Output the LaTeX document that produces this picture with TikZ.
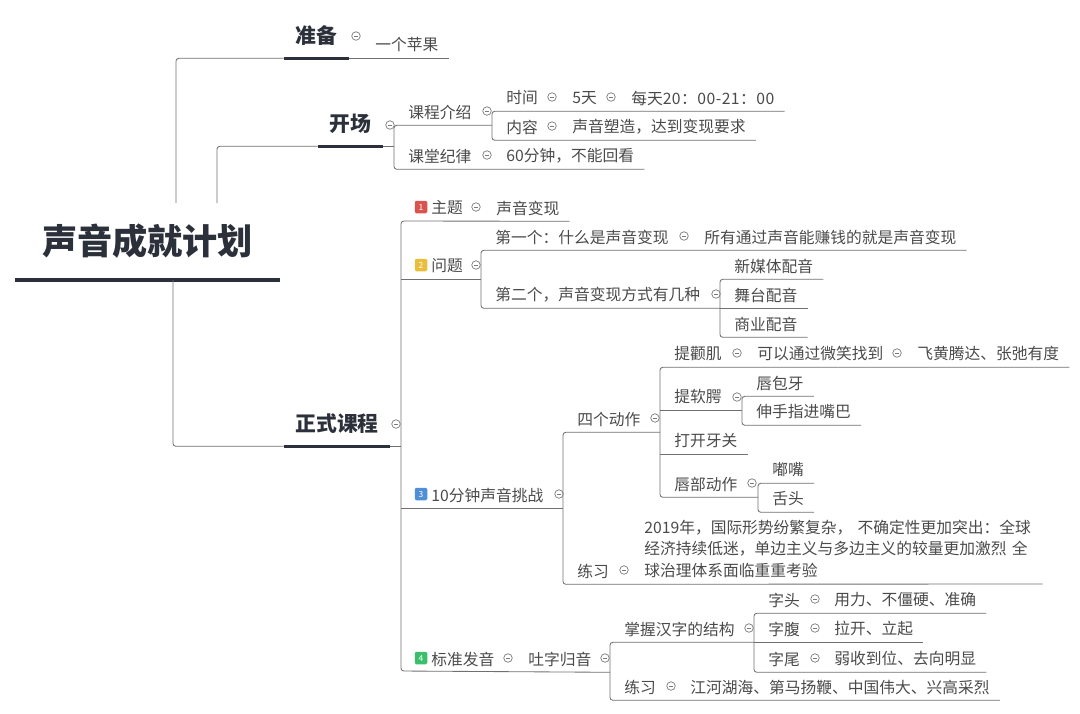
\documentclass[tikz,border=0pt]{standalone}
\usepackage{fontspec}
\setmainfont{Noto Sans CJK SC}
\definecolor{inkdark}{HTML}{2B303B}
\definecolor{inkleaf}{HTML}{4A4A4A}
\definecolor{linegray}{HTML}{707070}
\definecolor{foldgray}{HTML}{7A7A7A}
\definecolor{tagred}{HTML}{D9534F}
\definecolor{tagyellow}{HTML}{E8BE3C}
\definecolor{tagblue}{HTML}{4F8FD6}
\definecolor{taggreen}{HTML}{3CBF6A}
\def\px{0.025cm}
\tikzset{
    leaf/.style={anchor=west, inner sep=0pt, minimum height=26*\px, yshift=-1*\px, text=inkleaf,
        font=\fontsize{11.2}{13}\selectfont,
        execute at begin node={\kern14\dimexpr\px\relax},
        execute at end node={\kern10\dimexpr\px\relax}},
    para/.style={anchor=south west, inner sep=0pt, inner ysep=6*\px, text width=398*\px, align=left,
        text=inkleaf, font=\fontsize{11.2}{15.3}\selectfont},
    major/.style={inner sep=0pt, minimum height=44*\px, text=inkdark,
        font=\fontsize{14.8}{17}\selectfont\bfseries},
    title/.style={inner sep=0pt, minimum height=78*\px, minimum width=265*\px, text=inkdark,
        font=\fontsize{25}{28}\selectfont\bfseries},
    branch/.style={draw=linegray, line width=0.6pt, rounded corners=2pt},
    bar/.style={draw=inkdark, line width=2.2pt},
    fold/.style={circle, draw=foldgray, line width=0.5pt, minimum size=8.5*\px, inner sep=0pt,
        path picture={\draw[foldgray, line width=0.4pt] ([xshift=-1.8*\px]path picture bounding box.center) -- ([xshift=1.8*\px]path picture bounding box.center);}},
    tag/.style={rounded corners=1pt, minimum size=12.5*\px, inner sep=0pt, text=white,
        font=\fontsize{6}{6}\selectfont}
}

\begin{document}
\begin{tikzpicture}[x=\px, y=-\px]
    \useasboundingbox (0,0) rectangle (1080,713);

    % Title and the three main parts
    \node[title] (root) at (147.5,241) {声音成就计划};
    \node[major, minimum width=65*\px] (prep) at (316.5,36) {准备};
    \node[major, minimum width=65*\px] (open) at (350.5,124) {开场};
    \node[major, minimum width=106*\px] (main) at (337,424) {正式课程};
    \coordinate (stubA) at (176,203);
    \coordinate (stubB) at (217,203);
    \coordinate (stubC) at (173,280);
    \coordinate (trunkTop) at (401,221);
    \coordinate (trunkBot) at (401,671);

    % First part
    \node[leaf] (apple) at (361,44) {一个苹果};

    % Second part
    \node[leaf] (intro) at (394,111) {课程介绍};
    \node[leaf] (span) at (492,97) {时间};
    \node[leaf] (days) at (558,97) {5天};
    \node[leaf, execute at end node={}] (hours) at (617,97) {每天\addfontfeature{LetterSpace=3}20：00-21：00};
    \node[leaf] (content) at (492,126) {内容};
    \node[leaf] (shaping) at (558,126) {声音塑造，达到变现要求};
    \node[leaf] (rules) at (394,155) {课堂纪律};
    \node[leaf] (minutes) at (492,155) {60分钟，不能回看};

    % Topic and question
    \node[tag, fill=tagred] (tagA) at (421,207) {1};
    \node[leaf] (topic) at (417,207) {主题};
    \node[leaf] (topicVal) at (482,207) {声音变现};
    \node[tag, fill=tagyellow] (tagB) at (421,265) {2};
    \node[leaf] (ask) at (417,265) {问题};
    \node[leaf] (askOne) at (481,236) {第一个：什么是声音变现};
    \node[leaf] (askOneVal) at (690,236) {所有通过声音能赚钱的就是声音变现};
    \node[leaf] (askTwo) at (481,294) {第二个，声音变现方式有几种};
    \node[leaf] (mediaDub) at (720,265) {新媒体配音};
    \node[leaf] (stageDub) at (720,294) {舞台配音};
    \node[leaf] (bizDub) at (720,323) {商业配音};

    % Ten minute challenge
    \node[tag, fill=tagblue] (tagC) at (421,494) {3};
    \node[leaf] (challenge) at (417,494) {10分钟声音挑战};
    \node[leaf] (moves) at (563,418) {四个动作};
    \node[leaf] (cheek) at (660,353) {提颧肌};
    \node[leaf] (cheekVal) at (743,353) {可以通过微笑找到};
    \node[leaf] (cheekEnd) at (903,353) {飞黄腾达、张弛有度};
    \node[leaf] (palate) at (660,396) {提软腭};
    \node[leaf] (lipTeeth) at (742,382) {唇包牙};
    \node[leaf] (handIn) at (742,411) {伸手指进嘴巴};
    \node[leaf] (jaw) at (660,440) {打开牙关};
    \node[leaf] (lips) at (660,483) {唇部动作};
    \node[leaf] (pout) at (758,469) {嘟嘴};
    \node[leaf] (tongue) at (758,498) {舌头};
    \node[leaf] (drill) at (563,570) {练习};
    \node[para] (drillText) at (644,584) {2019年，国际形势纷繁复杂， 不确定性更加突出：全球\\经济持续低迷，单边主义与多边主义的较量更加激烈 全\\球治理体系面临重重考验};

    % Standard pronunciation
    \node[tag, fill=taggreen] (tagD) at (421,658) {4};
    \node[leaf] (std) at (417,658) {标准发音};
    \node[leaf] (gather) at (514,658) {吐字归音};
    \node[leaf] (hanzi) at (610,628) {掌握汉字的结构};
    \node[leaf] (head) at (754,599) {字头};
    \node[leaf] (headVal) at (820,599) {用力、不僵硬、准确};
    \node[leaf] (belly) at (754,628) {字腹};
    \node[leaf] (bellyVal) at (820,628) {拉开、立起};
    \node[leaf] (tail) at (754,658) {字尾};
    \node[leaf] (tailVal) at (820,658) {弱收到位、去向明显};
    \node[leaf] (drillB) at (610,686) {练习};
    \node[leaf] (drillBVal) at (676,686) {江河湖海、第马扬鞭、中国伟大、兴高采烈};

    % Heavy bars under the title and the main parts
    \draw[bar, line width=3pt] (root.south west) -- (root.south east);
    \foreach \part in {prep,open,main}
        \draw[bar] (\part.south west) -- (\part.south east);

    % Lines from the title
    \draw[branch] (stubA) |- (prep.south west);
    \draw[branch] (stubB) |- (open.south west);
    \draw[branch] (stubC) |- (main.south west);
    \draw[branch] (prep.south east) -- (apple.south east);

    % Lines of the second part
    \draw[branch] (open.south east) -- (open.south -| intro.west);
    \draw[branch] (intro.south -| span.west) -- (intro.south west) -- (rules.south west) -- (minutes.south east);
    \draw[branch] (hours.south east) -- (span.south west) -- (content.south west) -- (shaping.south east);

    % Main trunk
    \draw[branch] (main.south east) -- (main.south -| trunkTop);
    \draw[branch] (topicVal.south east) -- (trunkTop) -- (trunkBot) -- (gather.south -| hanzi.west);
    \draw[branch] (trunkTop |- ask.south) -- (ask.south -| askOne.west);
    \draw[branch] (trunkTop |- challenge.south) -- (challenge.south -| moves.west);

    % Lines of the question
    \draw[branch] (askOneVal.south east) -- (askOne.south west) -- (askTwo.south west) -- (askTwo.south -| mediaDub.west);
    \draw[branch] (mediaDub.south east) -- (mediaDub.south west) -- (bizDub.south west) -- (bizDub.south east);
    \draw[branch] (stageDub.south west) -- (stageDub.south east);

    % Lines of the challenge
    \draw[branch] (moves.south -| cheek.west) -- (moves.south west) -- (drill.south west) -- (drillText.south east);
    \draw[branch] (cheekEnd.south east) -- (cheek.south west) -- (lips.south west) -- (lips.south -| pout.west);
    \draw[branch] (palate.south west) -- (palate.south -| lipTeeth.west);
    \draw[branch] (lipTeeth.south east) -- (lipTeeth.south west) -- (handIn.south west) -- (handIn.south east);
    \draw[branch] (jaw.south west) -- (jaw.south east);
    \draw[branch] (pout.south east) -- (pout.south west) -- (tongue.south west) -- (tongue.south east);

    % Lines of the pronunciation
    \draw[branch] (hanzi.south -| head.west) -- (hanzi.south west) -- (drillB.south west) -- (drillBVal.south east);
    \draw[branch] (headVal.south east) -- (head.south west) -- (tail.south west) -- (tailVal.south east);
    \draw[branch] (belly.south west) -- (bellyVal.south east);

    % Fold marks
    \foreach \fx/\fy [count=\i] in {356/36, 390/125, 487/111, 552/97, 611/97, 552/126, 487/155,
        396/424, 476/207, 476/265, 684/236, 716/294, 559/494, 655/418, 737/353, 897/353,
        737/397, 752/483, 624/570, 508/658, 605/658, 749/628, 815/599, 815/628, 815/658, 671/686}
        \node[fold] (fold\i) at (\fx,\fy) {};
\end{tikzpicture}
\end{document}
